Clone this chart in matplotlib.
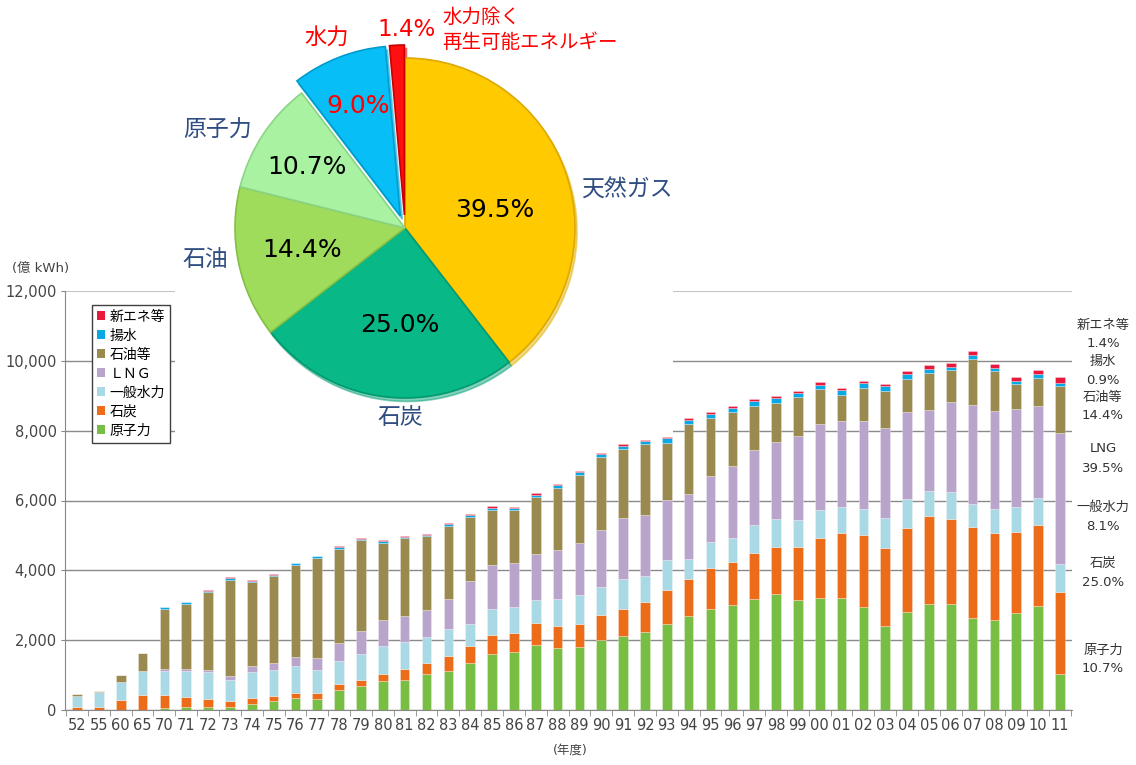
import numpy as np
import matplotlib
matplotlib.use('Agg')
import matplotlib.pyplot as plt
from matplotlib.patches import Patch

plt.rcParams['font.family'] = ['DejaVu Sans', 'Noto Sans CJK JP']

W, H = 1136, 765

# 年度
nendo = ['52', '55', '60', '65'] + [f'{j:02d}' for j in range(70, 100)] + [f'{j:02d}' for j in range(0, 12)]

# 発電電力量 (億kWh), 目視で読み取り
genshiryoku = [0, 0, 0, 0, 60, 85, 95, 95, 180, 250, 345, 305, 585, 685, 820, 865, 1020, 1125, 1335, 1590,
               1665, 1855, 1780, 1800, 2000, 2115, 2220, 2475, 2685, 2895, 3000, 3170, 3315, 3160, 3210, 3200,
               2950, 2400, 2810, 3035, 3030, 2630, 2580, 2770, 2990, 1020]
sekitan = [80, 100, 280, 430, 370, 285, 220, 170, 160, 150, 150, 170, 170, 180, 220, 295, 335, 430, 485, 560,
           550, 630, 630, 665, 715, 780, 865, 960, 1055, 1170, 1235, 1340, 1340, 1505, 1725, 1865,
           2075, 2230, 2400, 2515, 2435, 2610, 2475, 2340, 2305, 2360]
suiryoku = [320, 420, 520, 690, 690, 745, 770, 600, 750, 750, 760, 665, 650, 745, 800, 790, 730, 760, 650, 735,
            725, 655, 780, 820, 800, 850, 745, 850, 590, 735, 705, 800, 810, 770, 780, 760,
            735, 865, 845, 715, 790, 665, 715, 715, 780, 790]
lng = [0, 0, 0, 0, 50, 50, 55, 95, 160, 210, 260, 350, 500, 655, 750, 745, 770, 875, 1220, 1255,
       1275, 1340, 1390, 1495, 1630, 1750, 1750, 1740, 1855, 1905, 2035, 2140, 2220, 2400, 2465, 2465,
       2515, 2590, 2485, 2330, 2570, 2820, 2800, 2790, 2645, 3770]
sekiyu = [50, 30, 200, 510, 1730, 1865, 2240, 2770, 2410, 2475, 2630, 2870, 2710, 2610, 2180, 2235, 2115, 2085, 1840, 1590,
          1515, 1620, 1780, 1960, 2105, 1990, 2025, 1630, 2010, 1645, 1550, 1255, 1120, 1140, 1000, 740,
          950, 1065, 945, 1065, 915, 1340, 1150, 735, 800, 1350]
yousui = [0, 0, 0, 10, 60, 55, 30, 50, 40, 40, 65, 40, 50, 30, 65, 30, 30, 55, 50, 65,
          50, 65, 75, 65, 75, 85, 85, 125, 105, 135, 125, 150, 135, 115, 135, 125,
          135, 115, 125, 115, 95, 115, 75, 65, 105, 85]
shinene = [0, 0, 0, 0, 0, 0, 25, 20, 10, 10, 10, 10, 35, 20, 20, 30, 30, 30, 45, 50,
           40, 45, 45, 45, 40, 35, 40, 40, 50, 55, 65, 65, 55, 55, 65, 65,
           75, 75, 85, 105, 105, 115, 115, 125, 115, 160]

serien = [('原子力', genshiryoku, '#78BE44'),
          ('石炭', sekitan, '#EC6C1A'),
          ('一般水力', suiryoku, '#A8D9E4'),
          ('ＬＮＧ', lng, '#B9A4CB'),
          ('石油等', sekiyu, '#9A8A50'),
          ('揚水', yousui, '#06A8E6'),
          ('新エネ等', shinene, '#E8193C')]

# 2011年度の構成比 (円グラフ)
pie_werte = [39.5, 25.0, 14.4, 10.7, 9.0, 1.4]
pie_farben = ['#FFCA00', '#08B886', '#A0DC5C', '#A8F2A2', '#08BEF6', '#FF1010']
pie_kanten = ['#DDA800', '#009970', '#84C045', '#8CD487', '#009CCC', '#C80000']

# rechte Beschriftung
rechts = [('新エネ等', '1.4%', 325), ('揚水', '0.9%', 361), ('石油等', '14.4%', 397),
          ('LNG', '39.5%', 449), ('一般水力', '8.1%', 507), ('石炭', '25.0%', 563), ('原子力', '10.7%', 650)]

for s in serien:
    assert len(s[1]) == len(nendo)

fig = plt.figure(figsize=(W / 100, H / 100), dpi=100)
ax = fig.add_axes([65 / W, 1 - 710 / H, 1007 / W, 419 / H])

x = np.arange(len(nendo))
unten = np.zeros(len(nendo))
for name, werte, farbe in serien:
    ax.bar(x, werte, width=0.44, bottom=unten, color=farbe, edgecolor=(1, 1, 1, 0.4),
           linewidth=0.5, zorder=2)
    unten += np.array(werte)

ax.set_xlim(-0.55, len(nendo) - 0.45)
ax.set_ylim(0, 12000)
ax.set_yticks(np.arange(0, 12001, 2000))
ax.set_yticklabels([f'{v:,}' for v in range(0, 12001, 2000)])
ax.set_xticks(x)
ax.set_xticklabels(nendo)
ax.set_xticks(np.arange(-0.5, len(nendo), 1), minor=True)
ax.tick_params(axis='x', which='major', length=0, pad=6, labelsize=10.5, labelcolor='#444444')
ax.tick_params(axis='x', which='minor', length=4, color='#888888', direction='out')
ax.tick_params(axis='y', length=3, color='#888888', labelsize=10.5, labelcolor='#444444', pad=3)

ax.set_axisbelow(True)
ax.yaxis.grid(True, color='#8a8a8a', linewidth=1)
ax.get_ygridlines()[-1].set_color('#c4c4c4')
ax.get_ygridlines()[-1].set_linewidth(1.5)
for sp in ['top', 'right']:
    ax.spines[sp].set_visible(False)
for sp in ['left', 'bottom']:
    ax.spines[sp].set_color('#888888')

handles = [Patch(facecolor=f, edgecolor='none', label=n) for n, w, f in serien][::-1]
leg = ax.legend(handles=handles, loc='upper left', bbox_to_anchor=(0.027, 0.967), borderaxespad=0,
                fancybox=False, edgecolor='#404040', framealpha=1, fontsize=10,
                handlelength=0.6, handleheight=0.6, handletextpad=0.3, labelspacing=0.36,
                borderpad=0.35)
leg.get_frame().set_linewidth(1)

fig.text(12 / W, 1 - 268 / H, '(億 kWh)', fontsize=9.5, color='#444444', ha='left', va='center')
fig.text(570 / W, 1 - 750 / H, '(年度)', fontsize=9, color='#444444', ha='center', va='center')

for name, pct, ypx in rechts:
    fig.text(1103 / W, 1 - ypx / H, name, fontsize=9.5, color='#333333', ha='center', va='center')
    fig.text(1103 / W, 1 - (ypx + 19) / H, pct, fontsize=9.5, color='#333333', ha='center', va='center')

# Kreisdiagramm oben, mit weissem Hintergrund
ax_pie = fig.add_axes([175 / W, 1 - 434 / H, 498 / W, 434 / H], zorder=3)
cx, cy = 405, H - 228
wedges, _ = ax_pie.pie(pie_werte, colors=pie_farben, radius=170, center=(cx, cy), startangle=90,
                       counterclock=False, explode=[0, 0, 0, 0, 13, 13],
                       wedgeprops=dict(linewidth=1.2),
                       shadow={'ox': 1.5, 'oy': -2.5, 'shade': 0.12})
for w, k in zip(wedges, pie_kanten):
    w.set_edgecolor(k)
ax_pie.set_xlim(175, 673)
ax_pie.set_ylim(H - 434, H)
ax_pie.set_frame_on(True)
for sp in ax_pie.spines.values():
    sp.set_visible(False)
ax_pie.set_facecolor('white')

def pt(xp, yp):
    return xp, H - yp

blau = '#2F4D80'
rot = '#FF0000'
ax_pie.text(*pt(627, 190), '天然ガス', fontsize=16.5, color=blau, ha='center', va='center')
ax_pie.text(*pt(400, 418), '石炭', fontsize=16.5, color=blau, ha='center', va='center')
ax_pie.text(*pt(205, 260), '石油', fontsize=16.5, color=blau, ha='center', va='center')
ax_pie.text(*pt(218, 130), '原子力', fontsize=16.5, color=blau, ha='center', va='center')
ax_pie.text(*pt(327, 37), '水力', fontsize=16, color=rot, ha='center', va='center')
ax_pie.text(*pt(407, 29), '1.4%', fontsize=16.5, color=rot, ha='center', va='center')
ax_pie.text(*pt(442, 17), '水力除く', fontsize=14, color=rot, ha='left', va='center')
ax_pie.text(*pt(442, 42), '再生可能エネルギー', fontsize=14, color=rot, ha='left', va='center')

ax_pie.text(*pt(495, 210), '39.5%', fontsize=18, color='black', ha='center', va='center')
ax_pie.text(*pt(400, 325), '25.0%', fontsize=18, color='black', ha='center', va='center')
ax_pie.text(*pt(302, 250), '14.4%', fontsize=18, color='black', ha='center', va='center')
ax_pie.text(*pt(307, 167), '10.7%', fontsize=18, color='black', ha='center', va='center')
ax_pie.text(*pt(358, 106), '9.0%', fontsize=18, color=rot, ha='center', va='center')

fig.savefig('out.png', dpi=100, facecolor='white')
